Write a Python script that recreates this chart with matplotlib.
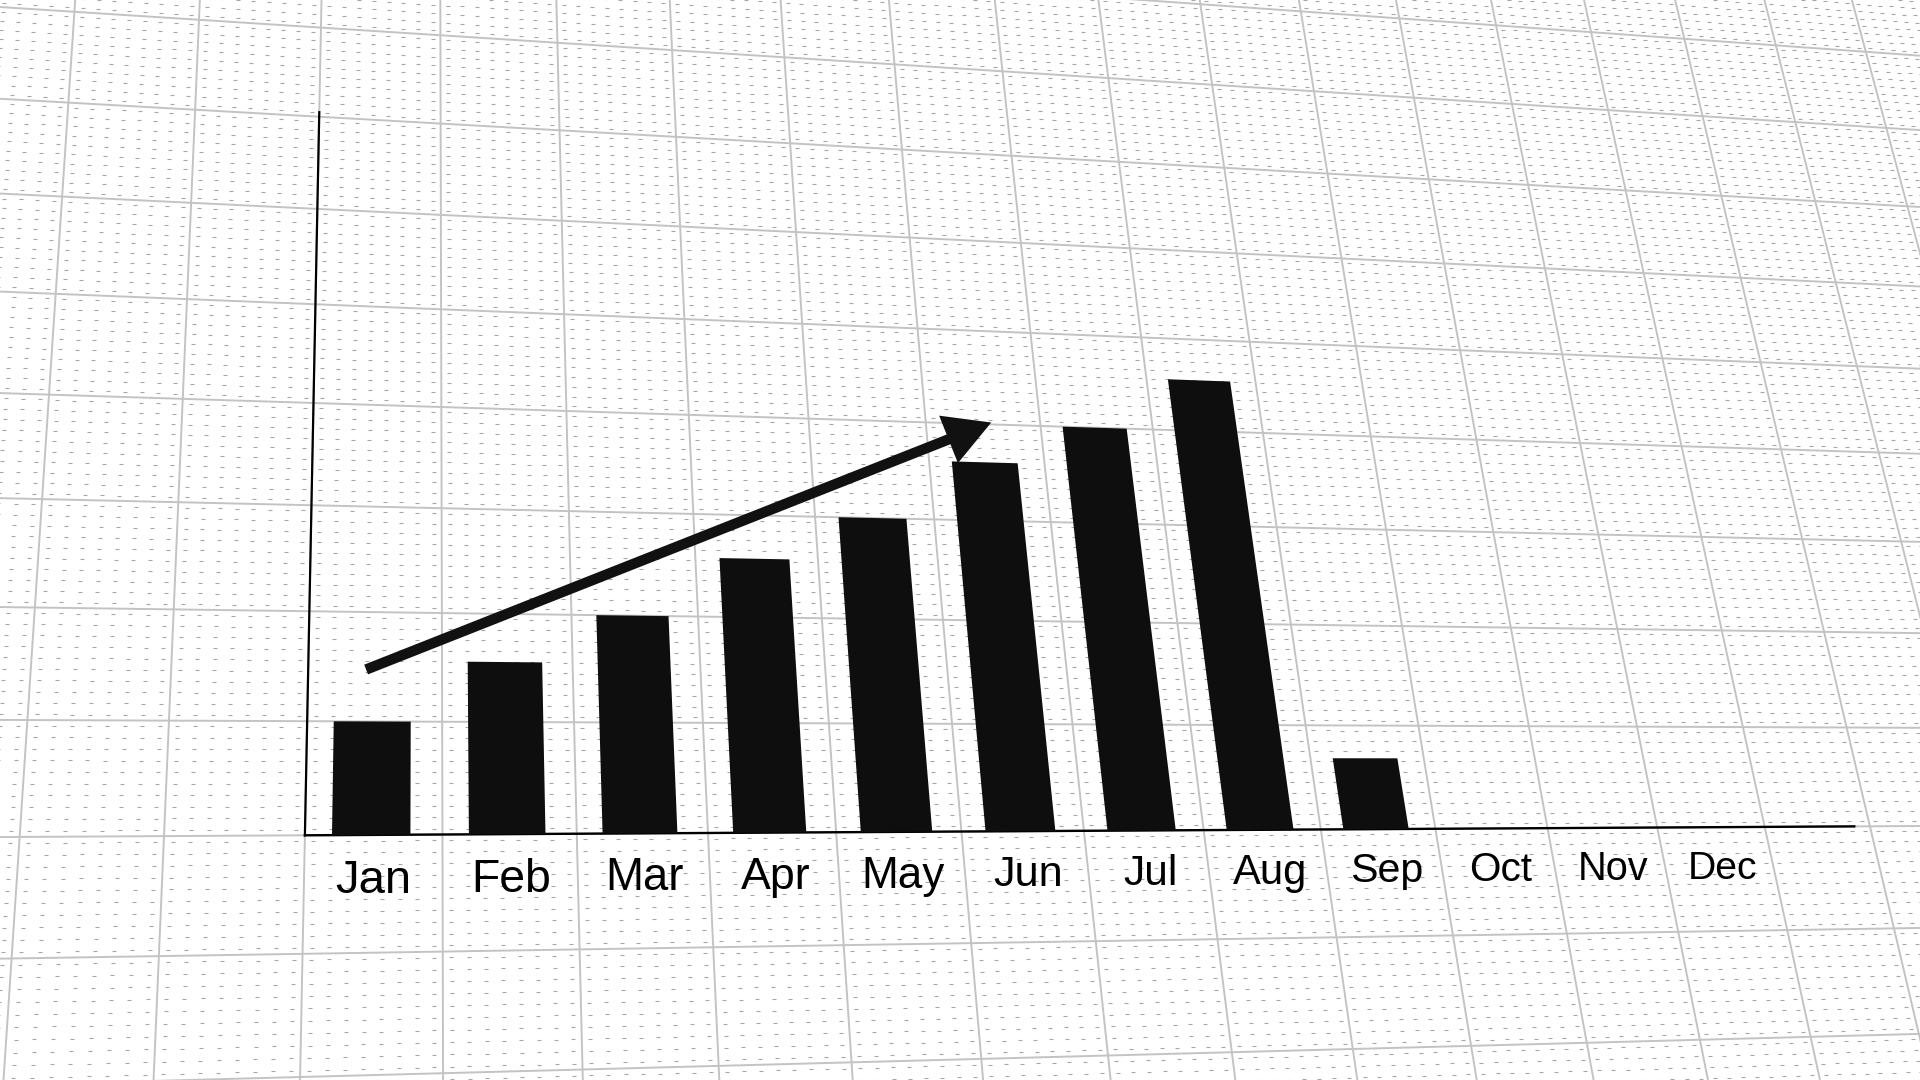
import numpy as np
import matplotlib
matplotlib.use('Agg')
import matplotlib.pyplot as plt
from matplotlib.transforms import Transform

# chart data (value units = one grid square of the paper)
months = ['Jan', 'Feb', 'Mar', 'Apr', 'May', 'Jun', 'Jul', 'Aug', 'Sep', 'Oct', 'Nov', 'Dec']
values = [1.0, 1.55, 2.0, 2.57, 3.0, 3.6, 4.0, 4.55, 0.68]   # Oct-Dec have no bar
trend_from = (0.43, 1.47)
trend_to = (5.57, 4.02)
y_top = 7.05
x_end = 12.85


class Perspective(Transform):
    """plane (grid units) -> picture pixels, a plain homography"""
    input_dims = output_dims = 2
    has_inverse = True

    def __init__(self, H):
        super().__init__()
        self.H = np.asarray(H, float)

    def transform_non_affine(self, values):
        a = np.asarray(values, float)
        xy = a.reshape(-1, 2)
        p = np.c_[xy, np.ones(len(xy))] @ self.H.T
        out = p[:, :2] / p[:, 2:]
        return out.reshape(a.shape)

    def inverted(self):
        return Perspective(np.linalg.inv(self.H))


def homography(src, dst):
    A, b = [], []
    for (u, v), (x, y) in zip(src, dst):
        A.append([u, v, 1, 0, 0, 0, -u * x, -v * x]); b.append(x)
        A.append([0, 0, 0, u, v, 1, -u * y, -v * y]); b.append(y)
    h = np.linalg.solve(np.array(A, float), np.array(b, float))
    return np.append(h, 1).reshape(3, 3)


# camera: where four grid corners of the paper land in the picture
H = homography([(0, 0), (12, 0), (0, 8), (12, 8)],
               [(304.9, 835.3), (1764.7, 826.9), (320.95, 27.6), (1608.1, 110.1)])
persp = Perspective(H)

fig = plt.figure(figsize=(19.2, 10.8), dpi=100)
ax = fig.add_axes([0, 0, 1, 1])
ax.set_xlim(0, 1920)
ax.set_ylim(1080, 0)
ax.set_autoscale_on(False)
ax.axis('off')
tr = persp + ax.transData

# dotted paper
U, V = np.meshgrid(np.arange(-4, 17, 1 / 8) + 1 / 16, np.arange(-4, 11, 1 / 10) + 1 / 20)
ax.plot(U.ravel(), V.ravel(), ls='none', marker='_', ms=2.2, mew=0.8,
        color='#a6a6a6', transform=tr, zorder=1)

# major grid
for i in range(-4, 18):
    ax.plot([i, i], [-4, 11], color='#c3c3c3', lw=1.4, transform=tr, zorder=2)
for j in range(-4, 12):
    ax.plot([-4, 17], [j, j], color='#c3c3c3', lw=1.4, transform=tr, zorder=2)

# axes of the drawn chart
ax.plot([0, 0], [0, y_top], color='black', lw=1.6, transform=tr, zorder=3)
ax.plot([0, x_end], [0, 0], color='black', lw=1.7, transform=tr, zorder=3)

pos = np.arange(len(values)) + 0.48
ax.bar(pos, values, width=0.57, color='#0e0e0e', linewidth=0, transform=tr, zorder=4)

ax.annotate('', xy=trend_to, xytext=trend_from, xycoords=tr, textcoords=tr,
            arrowprops=dict(arrowstyle='-|>,head_length=0.45,head_width=0.25',
                            lw=7.5, color='#111111', shrinkA=0, shrinkB=0,
                            mutation_scale=48, capstyle='butt', joinstyle='miter'),
            zorder=5)


def local_scale(u, v, d=0.05):
    p = persp.transform(np.array([[u, v], [u + d, v], [u, v + d]]))
    a, b = p[1] - p[0], p[2] - p[0]
    return np.sqrt(abs(a[0] * b[1] - a[1] * b[0])) / d


s0 = local_scale(0.5, -0.5)
for k, m in enumerate(months):
    x = k + 0.5
    ax.text(x, -0.5, m, transform=tr, ha='center', va='baseline',
            fontsize=34 * local_scale(x, -0.5) / s0,
            family=['Liberation Sans', 'DejaVu Sans'], color='black', zorder=5)

fig.savefig('out.png', dpi=100, facecolor='white')
